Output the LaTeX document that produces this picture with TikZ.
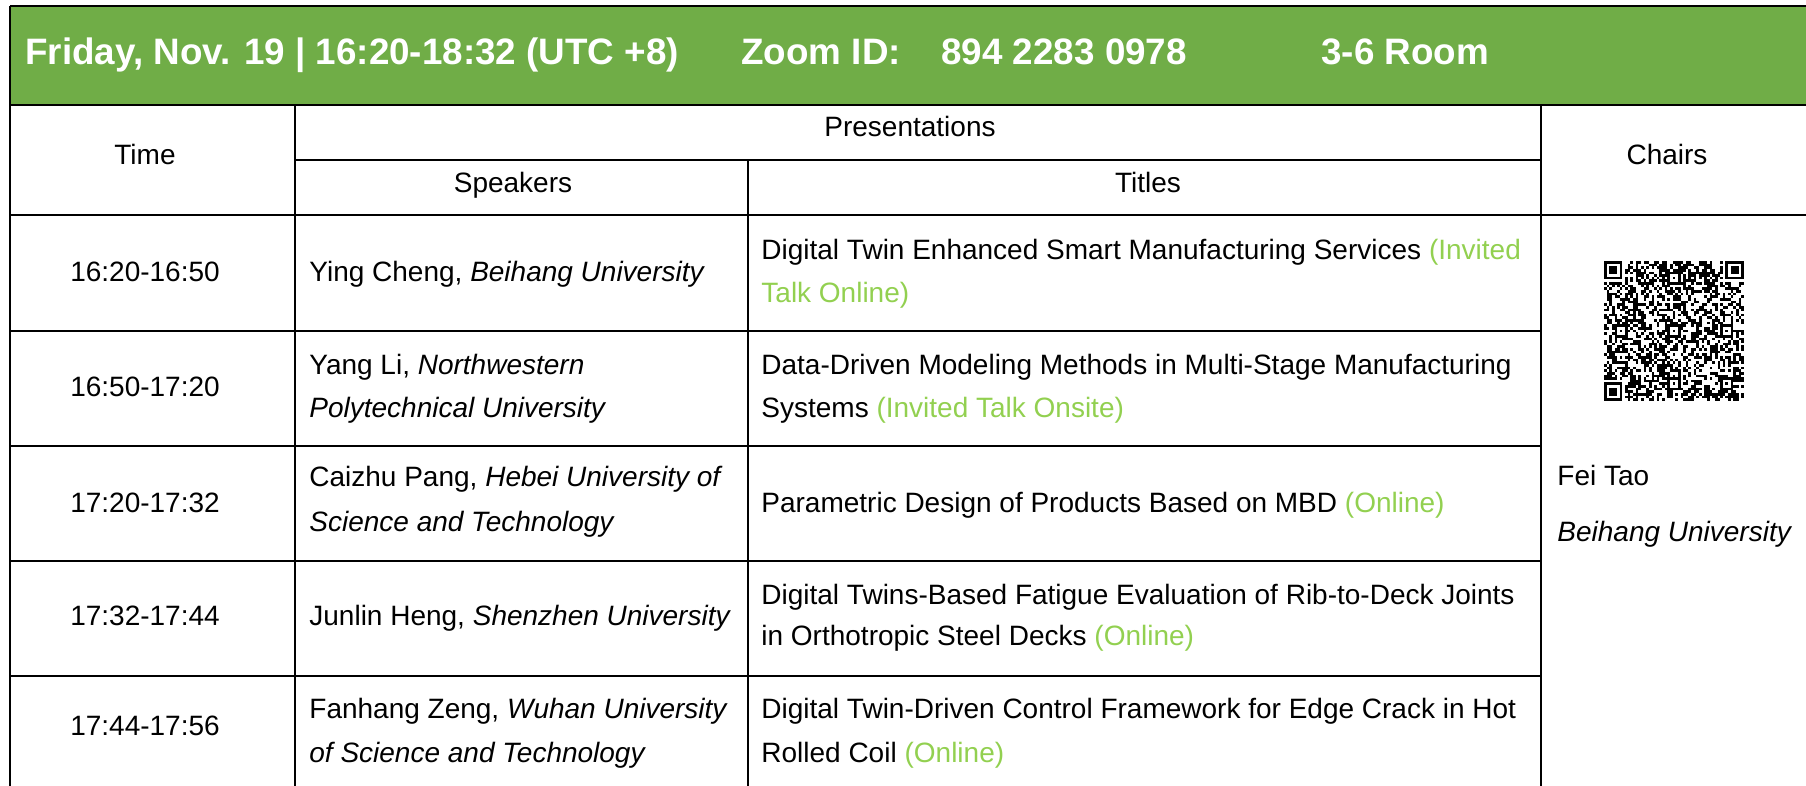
\documentclass[tikz,border=0pt]{standalone}
\usepackage{fontspec}
\setmainfont{Liberation Sans}
\usepackage{xcolor}
\definecolor{hdrgreen}{HTML}{70AD47}
\definecolor{notegreen}{HTML}{92D050}

\begin{document}
\begin{tikzpicture}[x=0.5pt,y=-0.5pt,
    rule/.style={line width=1.3pt,black},
    hdr/.style={text=white,font=\fontsize{18.4}{22}\selectfont\bfseries,inner sep=0pt,anchor=base west},
    txt/.style={font=\fontsize{14}{16}\selectfont,inner sep=0pt,anchor=base west},
    ctxt/.style={txt,anchor=base}]
   \useasboundingbox (0,0) rectangle (1806,786);
   \fill[hdrgreen] (10,6) rectangle (1806,105);

   \node[hdr,name=day] at (25,65) {Friday, Nov. 19 | 16:20-18:32 (UTC +8)};
   \node[hdr,name=zoomid] at (741,65) {Zoom ID:};
   \node[hdr,name=zoomno] at (941,65) {894 2283 0978};
   \node[hdr,name=room] at (1321,65) {3-6 Room};

   \draw[rule] (10,6) -- (1806,6);
   \draw[rule] (10,6) -- (10,786);
   \draw[rule] (10,105) -- (1806,105);
   \draw[rule] (295,160) -- (1541,160);
   \draw[rule] (10,215) -- (1806,215);
   \draw[rule] (10,331) -- (1541,331);
   \draw[rule] (10,446) -- (1541,446);
   \draw[rule] (10,561) -- (1541,561);
   \draw[rule] (10,676) -- (1541,676);
   \draw[rule] (295,105) -- (295,786);
   \draw[rule] (748,160) -- (748,786);
   \draw[rule] (1541,105) -- (1541,786);

   \node[ctxt,name=hTime] at (145,165) {Time};
   \node[ctxt,name=hPres] at (910,137) {Presentations};
   \node[ctxt,name=hSpk] at (513,193) {Speakers};
   \node[ctxt,name=hTitle] at (1148,193) {Titles};
   \node[ctxt,name=hChair] at (1667,165) {Chairs};

   \node[ctxt,name=t1] at (145,282) {16:20-16:50};
   \node[txt,name=s1] at (309,282) {Ying Cheng, \textit{Beihang University}};
   \node[txt,name=p1a] at (761,260) {Digital Twin Enhanced Smart Manufacturing Services \textcolor{notegreen}{(Invited}};
   \node[txt,name=p1b] at (761,303) {\textcolor{notegreen}{Talk Online)}};

   \node[ctxt,name=t2] at (145,397) {16:50-17:20};
   \node[txt,name=s2a] at (309,375) {Yang Li, \textit{Northwestern}};
   \node[txt,name=s2b] at (309,417) {\textit{Polytechnical University}};
   \node[txt,name=p2a] at (761,375) {Data-Driven Modeling Methods in Multi-Stage Manufacturing};
   \node[txt,name=p2b] at (761,417) {Systems \textcolor{notegreen}{(Invited Talk Onsite)}};

   \node[ctxt,name=t3] at (145,512) {17:20-17:32};
   \node[txt,name=s3a] at (309,487) {Caizhu Pang, \textit{Hebei University of}};
   \node[txt,name=s3b] at (309,531) {\textit{Science and Technology}};
   \node[txt,name=p3] at (761,512) {Parametric Design of Products Based on MBD \textcolor{notegreen}{(Online)}};

   \node[ctxt,name=t4] at (145,625) {17:32-17:44};
   \node[txt,name=s4] at (309,625) {Junlin Heng, \textit{Shenzhen University}};
   \node[txt,name=p4a] at (761,604) {Digital Twins-Based Fatigue Evaluation of Rib-to-Deck Joints};
   \node[txt,name=p4b] at (761,645) {in Orthotropic Steel Decks \textcolor{notegreen}{(Online)}};

   \node[ctxt,name=t5] at (145,735) {17:44-17:56};
   \node[txt,name=s5a] at (309,718) {Fanhang Zeng, \textit{Wuhan University}};
   \node[txt,name=s5b] at (309,762) {\textit{of Science and Technology}};
   \node[txt,name=p5a] at (761,718) {Digital Twin-Driven Control Framework for Edge Crack in Hot};
   \node[txt,name=p5b] at (761,762) {Rolled Coil \textcolor{notegreen}{(Online)}};

   \node[txt,name=chair] at (1557,486) {Fei Tao};
   \node[txt,name=chairuni] at (1557,541) {\textit{Beihang University}};

   % qr code
   \begin{scope}[shift={(1604,261)},x=1.32pt,y=-1.32pt]
      \pgfmathsetseed{7}
      \foreach \i in {0,...,52}
         \foreach \j in {0,...,52}{
            \pgfmathrandominteger{\bit}{0}{1}
            \ifnum\bit=1 \fill (\i,\j) rectangle ++(1,1); \fi
         }
      \foreach \k in {8,...,44}{
         \fill[white] (\k,6) rectangle ++(1,1);
         \fill[white] (6,\k) rectangle ++(1,1);
         \ifodd\k\else
            \fill (\k,6) rectangle ++(1,1);
            \fill (6,\k) rectangle ++(1,1);
         \fi
      }
      \foreach \cx/\cy/\px/\py in {0/0/0/0,45/0/46/0,0/45/0/46}{
         \fill[white] (\cx,\cy) rectangle ++(8,8);
         \fill (\px,\py) rectangle ++(7,7);
         \fill[white] (\px+1,\py+1) rectangle ++(5,5);
         \fill (\px+2,\py+2) rectangle ++(3,3);
      }
      \foreach \ax/\ay in {6/26,26/6,26/26,26/46,46/26,46/46}{
         \fill (\ax-2,\ay-2) rectangle ++(5,5);
         \fill[white] (\ax-1,\ay-1) rectangle ++(3,3);
         \fill (\ax,\ay) rectangle ++(1,1);
      }
   \end{scope}
\end{tikzpicture}
\end{document}
